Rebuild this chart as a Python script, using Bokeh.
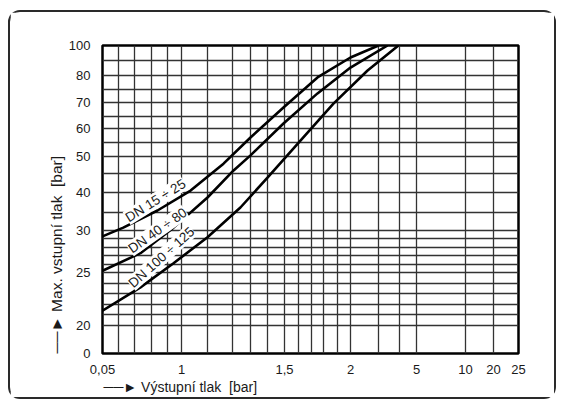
import math
import numpy as np
from bokeh.plotting import figure
from bokeh.models import Range1d, FixedTicker, Label, Title
from bokeh.embed import file_html
from bokeh.resources import INLINE

# ---------------- data ----------------
X_TICK_VALUES = [0.05, 1, 1.5, 2, 5, 10, 20, 25]
X_TICK_LABELS = ["0,05", "1", "1,5", "2", "5", "10", "20", "25"]
Y_TICK_VALUES = [0, 20, 25, 30, 40, 50, 60, 70, 80, 100]
Y_TICK_LABELS = ["0", "20", "25", "30", "40", "50", "60", "70", "80", "100"]

X_GRID_VALUES = [0.2, 0.4, 0.6, 0.8, 1.0, 1.1, 1.2, 1.3, 1.4, 1.5, 1.6, 1.7,
                 1.8, 1.9, 2.0, 3.0, 4.0, 5.0, 10.0, 20.0]
Y_GRID_VALUES = [20, 21, 22, 23, 24, 25, 26, 27, 28, 29, 30,
                 35, 40, 45, 50, 55, 60, 65, 70, 75, 80, 90]

SERIES_NAMES = ["DN 15 ÷ 25", "DN 40 ÷ 80", "DN 100 ÷ 125"]

dn15_out = [0.05, 0.26, 0.675, 1.035, 1.164, 1.3, 1.494, 1.75, 2.0, 3.0]
dn15_in = [29.3, 30.8, 35.5, 40.5, 47.9, 56.8, 68.2, 79.3, 92.0, 100.0]

dn40_out = [0.05, 0.47, 0.886, 1.1, 1.206, 1.3, 1.494, 1.75, 2.0, 3.43]
dn40_in = [25.2, 27.3, 30.8, 38.75, 45.9, 50.4, 62.1, 73.5, 85.3, 100.0]

dn100_out = [0.05, 0.47, 0.886, 1.1, 1.244, 1.4, 1.615, 1.871, 2.61, 3.95]
dn100_in = [21.4, 23.6, 26.1, 29.2, 36.25, 43.9, 55.7, 69.6, 83.3, 100.0]

# label anchor points (bar, bar) and their slope angle (deg)
label_out = [0.65, 0.675, 0.725]
label_in = [38.0, 30.0, 26.8]
label_angle = [32, 35, 42]

X_TITLE = "Výstupní tlak\u00a0\u00a0[bar]"
Y_TITLE = "Max. vstupní tlak\u00a0\u00a0[bar]"
ARROW = "\u2500\u2500\u25ba\u00a0"

# ---------------- nomogram scale definition (value -> axis position) ----------------
X_SCALE_VALUES = [0.05, 0.2, 0.4, 0.6, 0.8, 1.0, 1.1, 1.2, 1.3, 1.4, 1.5, 1.6,
                  1.7, 1.8, 1.9, 2.0, 3.0, 4.0, 5.0, 10.0, 20.0, 25.0]
X_SCALE_POS = [0, 16, 32, 49, 65, 79, 105, 130, 148, 165, 182, 196, 209, 221,
               235, 248, 276, 297, 314, 363, 391, 416]
Y_SCALE_VALUES = [0, 20, 25, 30, 35, 40, 45, 50, 55, 60, 65, 70, 75, 80, 90, 100]
Y_SCALE_POS = [0, 28, 81, 123, 141, 161, 180, 197, 211, 225, 237, 251, 264,
               278, 293, 308]


def xs(v):
    return np.interp(np.asarray(v, dtype=float), X_SCALE_VALUES, X_SCALE_POS)


def ys(v):
    return np.interp(np.asarray(v, dtype=float), Y_SCALE_VALUES, Y_SCALE_POS)


FONT = "Liberation Sans"
INK = "#1a1a1a"

p = figure(width=544, height=385, output_backend="svg", toolbar_location=None,
           x_range=Range1d(0, 416), y_range=Range1d(0, 308),
           min_border_left=92, min_border_right=36, min_border_top=33,
           min_border_bottom=44)
p.styles = {"margin-left": "10px", "margin-top": "12px",
            "outline": "2px solid #2a2a2a", "outline-offset": "0px",
            "border-radius": "10px"}
p.background_fill_color = "white"
p.border_fill_color = "white"
p.outline_line_color = "black"
p.outline_line_width = 2.5

# ticks / labels
xt = [float(v) for v in xs(X_TICK_VALUES)]
yt = [float(v) for v in ys(Y_TICK_VALUES)]
p.xaxis.ticker = FixedTicker(ticks=xt)
p.yaxis.ticker = FixedTicker(ticks=yt)
p.xaxis.major_label_overrides = {t: l for t, l in zip(xt, X_TICK_LABELS)}
p.yaxis.major_label_overrides = {t: l for t, l in zip(yt, Y_TICK_LABELS)}
for ax in (p.xaxis[0], p.yaxis[0]):
    ax.axis_line_color = None
    ax.major_tick_line_color = None
    ax.minor_tick_line_color = None
    ax.major_tick_out = 0
    ax.major_tick_in = 0
    ax.major_label_text_font = FONT
    ax.major_label_text_font_size = "13px"
    ax.major_label_text_color = INK
p.xaxis.major_label_standoff = 11
p.yaxis.major_label_standoff = 12

# grid
p.xgrid.ticker = FixedTicker(ticks=[float(v) for v in xs(X_GRID_VALUES)])
p.ygrid.ticker = FixedTicker(ticks=[float(v) for v in ys(Y_GRID_VALUES)])
for g in (p.xgrid[0], p.ygrid[0]):
    g.grid_line_color = "#333333"
    g.grid_line_width = 1.3
    g.grid_line_alpha = 1.0

# curves
for ox, iy in ((dn15_out, dn15_in), (dn40_out, dn40_in), (dn100_out, dn100_in)):
    p.line(xs(ox), ys(iy), line_color="black", line_width=2.6)

for name, lx, ly, ang in zip(SERIES_NAMES, label_out, label_in, label_angle):
    p.add_layout(Label(x=float(xs(lx)), y=float(ys(ly)), text=name,
                       angle=math.radians(ang), text_align="center",
                       text_baseline="middle", text_font=FONT,
                       text_font_size="13.5px", text_color=INK,
                       background_fill_color="white"))

# axis titles (arrow + text), placed in the side panels
p.add_layout(Title(text=ARROW + Y_TITLE, align="left", offset=0, standoff=2,
                   text_font=FONT, text_font_size="15.5px",
                   text_font_style="normal", text_color=INK), "left")
p.add_layout(Title(text=ARROW + X_TITLE, align="left", offset=1, standoff=0,
                   text_font=FONT, text_font_size="14px",
                   text_font_style="normal", text_color=INK), "below")

open("out.html", "w").write(file_html(p, INLINE))
